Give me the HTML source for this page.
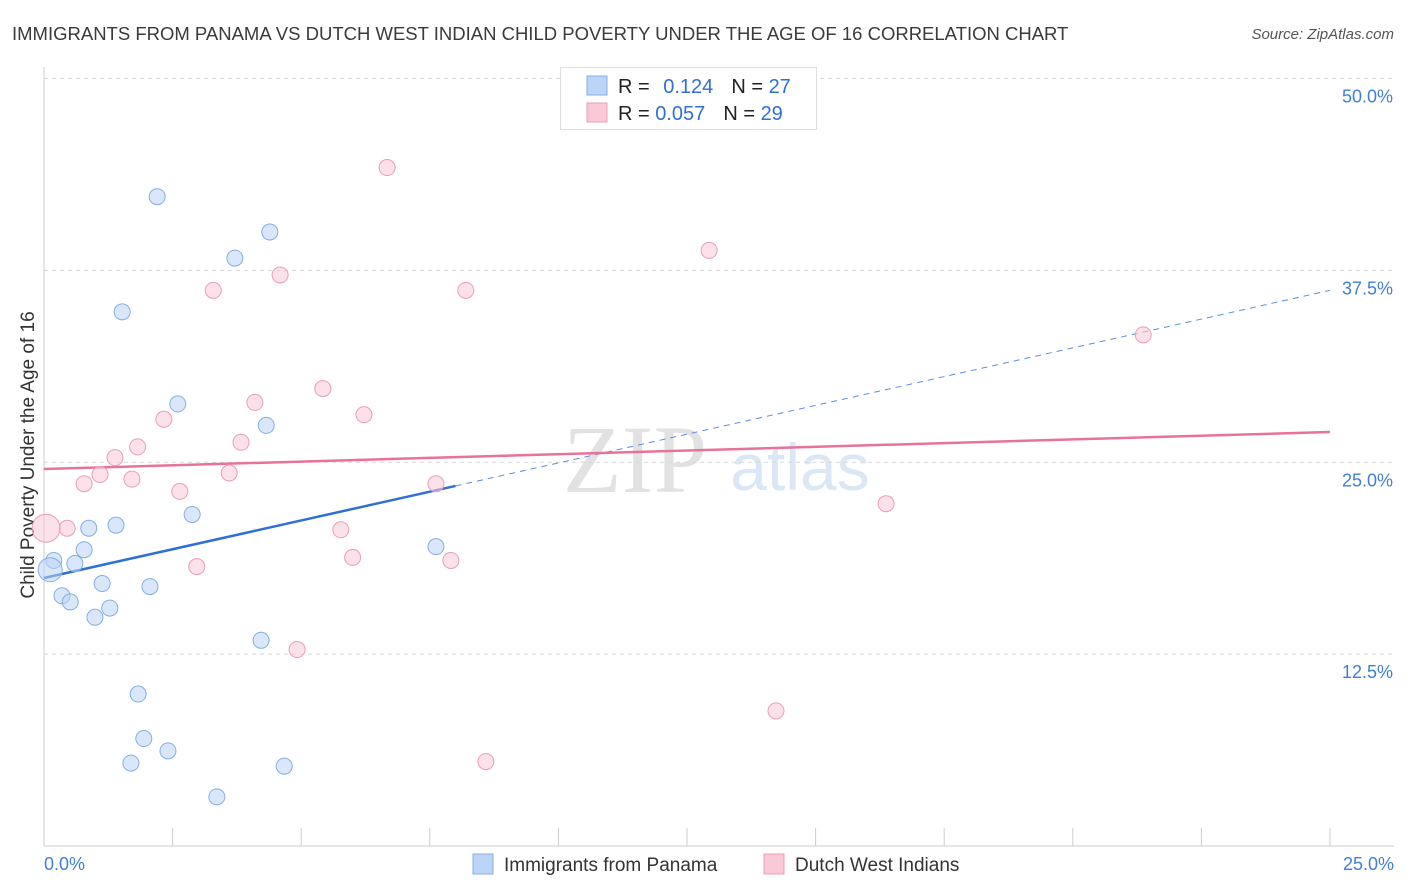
<!DOCTYPE html>
<html><head><meta charset="utf-8">
<style>
body{margin:0;background:#fff;font-family:"Liberation Sans",sans-serif;}
svg{display:block}
</style></head>
<body>
<svg id="chart" width="1406" height="892" xmlns="http://www.w3.org/2000/svg">
<text x="12" y="40" font-size="18.5" fill="#3a3a3a">IMMIGRANTS FROM PANAMA VS DUTCH WEST INDIAN CHILD POVERTY UNDER THE AGE OF 16 CORRELATION CHART</text>
<text x="1394" y="39" font-size="15" fill="#555" font-style="italic" text-anchor="end">Source: ZipAtlas.com</text>
<text x="635" y="492" font-size="96" fill="#e2e2e2" font-family="Liberation Serif,serif" text-anchor="middle">ZIP</text>
<text x="800" y="490" font-size="66" fill="#dce7f5" text-anchor="middle">atlas</text>
<text transform="translate(34,455) rotate(-90)" font-size="19" fill="#333" text-anchor="middle">Child Poverty Under the Age of 16</text>
<g id="grid"></g><g id="axes"></g><g id="lines"></g><g id="pts"></g>
<g>
<rect x="560.5" y="67.5" width="256" height="62" fill="#fff" stroke="#ddd"/>
<rect x="587" y="76" width="20" height="19" fill="#bcd4f5" stroke="#86aee3"/>
<rect x="587" y="103" width="20" height="19" fill="#f9c9d8" stroke="#eb9db8"/>
<text x="618" y="93" font-size="20" fill="#222">R = <tspan fill="#2f6fd6" dx="8">0.124</tspan><tspan dx="18" fill="#222">N = </tspan><tspan fill="#2f6fd6">27</tspan></text>
<text x="618" y="120" font-size="20" fill="#222">R = <tspan fill="#2f6fd6">0.057</tspan><tspan dx="18" fill="#222">N = </tspan><tspan fill="#2f6fd6">29</tspan></text>
</g>
<g>
<rect x="473" y="854" width="20" height="20" fill="#bcd4f5" stroke="#86aee3"/>
<text x="504" y="871" font-size="19" fill="#333">Immigrants from Panama</text>
<rect x="764" y="854" width="20" height="20" fill="#f9c9d8" stroke="#eb9db8"/>
<text x="795" y="871" font-size="19" fill="#333">Dutch West Indians</text>
</g>
</svg>
<script>
const blueX=[2.2,4.39,3.71,1.52,2.6,4.32,2.88,0.87,1.40,0.78,0.19,0.6,0.12,1.13,2.06,0.35,0.51,1.28,0.99,4.22,7.62,1.83,1.94,2.41,1.69,4.67,3.36];
const blueY=[42.3,40.0,38.3,34.8,28.8,27.4,21.6,20.7,20.9,19.3,18.6,18.4,18.0,17.1,16.9,16.3,15.9,15.5,14.9,13.4,19.5,9.9,7.0,6.2,5.4,5.2,3.2];
const pinkX=[6.67,12.93,4.59,3.29,8.2,21.37,5.42,4.1,2.33,6.22,1.82,3.83,1.38,1.09,1.71,0.78,3.6,2.64,7.62,16.37,0.45,0.04,5.77,6.0,7.91,2.97,4.92,14.23,8.59];
const pinkY=[44.2,38.8,37.2,36.2,36.2,33.3,29.8,28.9,27.8,28.1,26.0,26.3,25.3,24.2,23.9,23.6,24.3,23.1,23.6,22.3,20.7,20.7,20.6,18.8,18.6,18.2,12.8,8.8,5.5];
const blueTrend=[17.46,36.2]; // y at x=0 and x=25
const pinkTrend=[24.56,26.97];
const yTicks=[12.5,25,37.5,50];
const xTicks=[0,2.5,5,7.5,10,12.5,15,17.5,20,22.5,25];
const NS="http://www.w3.org/2000/svg";
const sx=v=>44+v*51.44, sy=v=>846-v*15.35;
function mk(tag,attrs,parent){const e=document.createElementNS(NS,tag);for(const k in attrs)e.setAttribute(k,attrs[k]);document.getElementById(parent).appendChild(e);return e;}
yTicks.forEach(t=>{
 const l=mk('line',{x1:44,x2:1394,y1:sy(t),y2:sy(t),stroke:'#d8d8d8','stroke-dasharray':'4,4'},'grid');
 
 
 const tx=mk('text',{x:1393,y:sy(t)+24,'font-size':18,fill:'#3f7fd8','text-anchor':'end'},'grid');tx.textContent=t.toFixed(1)+'%';
 
 
});
mk('line',{x1:44,x2:44,y1:67,y2:846,stroke:'#ccc'},'axes');
mk('line',{x1:44,x2:1394,y1:846,y2:846,stroke:'#ccc'},'axes');
xTicks.forEach(t=>{const l=mk('line',{x1:sx(t),x2:sx(t),y1:828,y2:846,stroke:'#ccc'},'axes');
 
 });
[[0,'start',44],[25,'end',1394]].forEach(([v,a,x])=>{const t=mk('text',{x:x,y:870,'font-size':18,fill:'#3f7fd8','text-anchor':a},'axes');t.textContent=v.toFixed(1)+'%';
 
 });
const bAt=x=>blueTrend[0]+(blueTrend[1]-blueTrend[0])*x/25;
let l1=mk('line',{x1:sx(0),y1:sy(bAt(0)),x2:sx(8),y2:sy(bAt(8)),stroke:'#2f6fd6','stroke-width':2.5},'lines');


let l2=mk('line',{x1:sx(8),y1:sy(bAt(8)),x2:sx(25),y2:sy(bAt(25)),stroke:'#5b8fdc','stroke-width':1,'stroke-dasharray':'6,5'},'lines');


let l3=mk('line',{x1:sx(0),y1:sy(pinkTrend[0]),x2:sx(25),y2:sy(pinkTrend[1]),stroke:'#e8739a','stroke-width':2.5},'lines');


pinkX.forEach((x,i)=>{const r=i==21?14:8;const c=mk('circle',{cx:sx(x),cy:sy(pinkY[i]),r:r,fill:'#f9c9d8','fill-opacity':0.55,stroke:'#eb9db8','stroke-width':1},'pts');
 
 });
blueX.forEach((x,i)=>{const r=i==12?12:8;const c=mk('circle',{cx:sx(x),cy:sy(blueY[i]),r:r,fill:'#bcd4f5','fill-opacity':0.55,stroke:'#86aee3','stroke-width':1},'pts');
 
 });
</script>
</body></html>
